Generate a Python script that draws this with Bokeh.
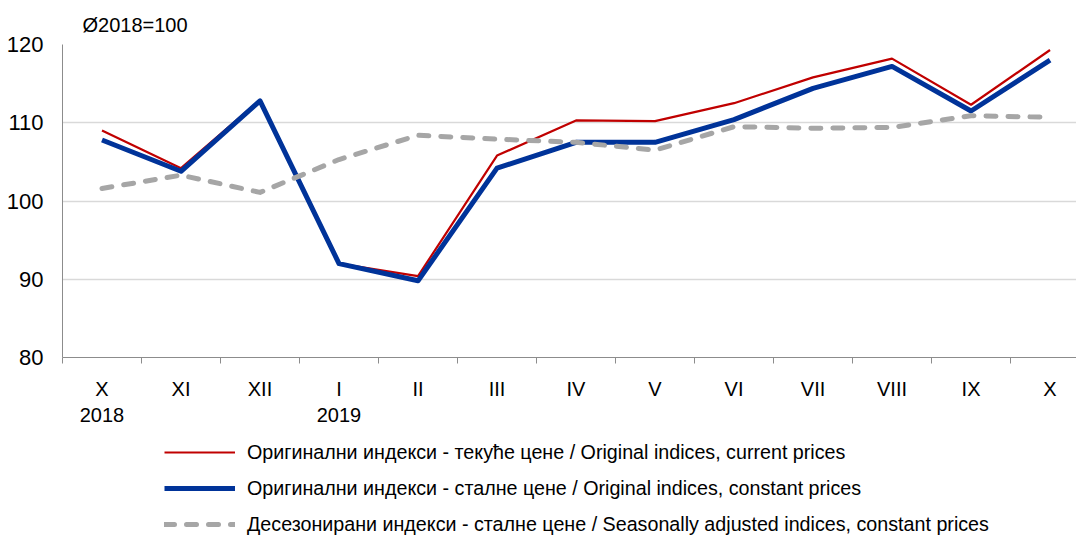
from bokeh.plotting import figure
from bokeh.layouts import column
from bokeh.models import FixedTicker, Legend, LegendItem, Range1d
from bokeh.embed import file_html
from bokeh.resources import INLINE

months = ["X", "XI", "XII", "I", "II", "III", "IV", "V", "VI", "VII", "VIII", "IX", "X"]
year_labels = {0: "2018", 3: "2019"}
current_prices = [109.0, 104.2, 112.9, 92.0, 90.4, 105.8, 110.3, 110.2, 112.5, 115.8, 118.2, 112.3, 119.3]
constant_prices = [107.8, 103.8, 112.8, 92.0, 89.8, 104.2, 107.5, 107.5, 110.4, 114.4, 117.2, 111.5, 118.0]
seasonally_adj = [101.6, 103.3, 101.1, 105.3, 108.4, 107.9, 107.5, 106.5, 109.5, 109.3, 109.4, 110.9, 110.7]
y_ticks = [80, 90, 100, 110, 120]
legend_labels = [
    "Оригинални индекси - текуће цене / Original indices, current prices",
    "Оригинални индекси - сталне цене / Original indices, constant prices",
    "Десезонирани индекси - сталне цене / Seasonally adjusted indices, constant prices",
]

FONT = "Liberation Sans"
RED, BLUE, GRAY = "#c00000", "#003399", "#a6a6a6"
xs = list(range(len(months)))

H1 = 432
p = figure(width=1076, height=H1, x_range=(-0.5, 12.335), y_range=(80, 120),
           output_backend="svg", toolbar_location=None,
           min_border_left=62, min_border_right=0, min_border_top=44, min_border_bottom=H1 - 357)
p.outline_line_color = None
p.background_fill_color = "white"
p.border_fill_color = "white"

p.title.text = "Ø2018=100"
p.title.text_font = FONT
p.title.text_font_size = "20px"
p.title.text_font_style = "normal"
p.title.text_color = "#000000"
p.title.align = "left"
p.title.offset = 20
p.title.standoff = 18

labels = {}
for i, m in enumerate(months):
    labels[i] = m + ("\n" + year_labels[i] if i in year_labels else "")
xa = p.xaxis[0]
xa.ticker = FixedTicker(ticks=xs, minor_ticks=[i - 0.5 for i in range(len(months) + 1)])
xa.major_label_overrides = labels
xa.major_tick_line_color = None
xa.major_tick_out = 0
xa.major_tick_in = 0
xa.minor_tick_out = 6
xa.minor_tick_in = 0
xa.minor_tick_line_color = "#8c8c8c"
xa.axis_line_color = "#8c8c8c"
xa.major_label_text_font = FONT
xa.major_label_text_font_size = "20px"
xa.major_label_text_color = "#000000"
xa.major_label_standoff = 14

ya = p.yaxis[0]
ya.ticker = FixedTicker(ticks=y_ticks)
ya.major_tick_out = 0
ya.major_tick_in = 0
ya.minor_tick_line_color = None
ya.axis_line_color = "#8c8c8c"
ya.major_label_text_font = FONT
ya.major_label_text_font_size = "22px"
ya.major_label_text_color = "#000000"
ya.major_label_standoff = 19

p.xgrid.grid_line_color = None
p.ygrid.grid_line_color = "#d9d9d9"
p.ygrid.grid_line_width = 1.3

p.line(xs, current_prices, line_color=RED, line_width=2.2)
p.line(xs, constant_prices, line_color=BLUE, line_width=5, line_join="round")
p.line(xs, seasonally_adj, line_color=GRAY, line_width=5, line_dash="10 12",
       line_cap="round", line_join="round")

# legend panel (same series, drawn outside its visible range, only the legend shows)
H2 = 535 - H1
q = figure(width=1076, height=H2, x_range=Range1d(-0.5, 12.335), y_range=Range1d(0, 1),
           output_backend="svg", toolbar_location=None,
           min_border=0, min_border_left=0, min_border_right=0, min_border_top=0, min_border_bottom=0)
q.axis.visible = False
q.grid.visible = False
q.outline_line_color = None
l1 = q.line(xs, current_prices, line_color=RED, line_width=2.2)
l2 = q.line(xs, constant_prices, line_color=BLUE, line_width=5)
l3 = q.line(xs, seasonally_adj, line_color=GRAY, line_width=5, line_dash="10 12", line_cap="round")

legend = Legend(items=[LegendItem(label=legend_labels[0], renderers=[l1]),
                       LegendItem(label=legend_labels[1], renderers=[l2]),
                       LegendItem(label=legend_labels[2], renderers=[l3])],
                location=(102, -1), orientation="vertical",
                glyph_width=71, glyph_height=24, label_height=24, spacing=12,
                padding=0, margin=0, label_standoff=12,
                label_text_font=FONT, label_text_font_size="19.7px", label_text_color="#000000",
                border_line_color=None, background_fill_alpha=0)
q.add_layout(legend, "center")

layout = column(p, q, spacing=0)
open("out.html", "w").write(file_html(layout, INLINE))
